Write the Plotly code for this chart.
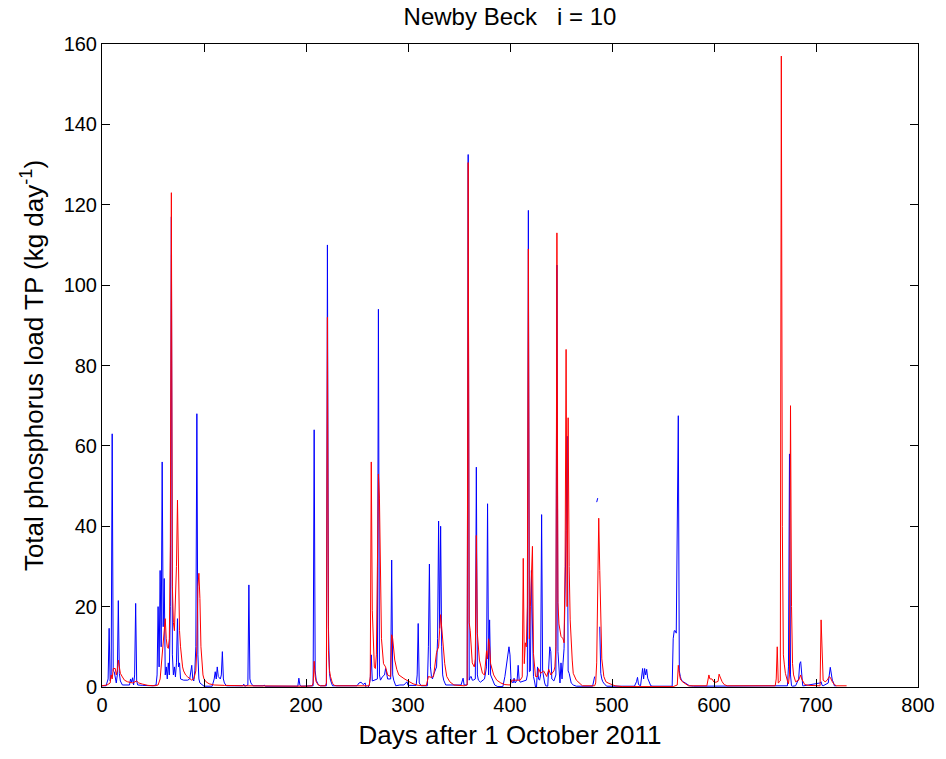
import plotly.graph_objects as go

# Observed / modelled TP load series (day after 1 Oct 2011, kg/day)
blue_days = [0,4,6,7,8,9,10,11,12,13,14,15,16,17,18,20,27,28,29,30,31,32,33,34,35,40,50,53,54,55,56,57,58,59,60,61,62,63,64,65,66,67,68,69,70,71,72,73,74,75,76,77,80,84,86,88,89,90,91,92,93,94,95,96,98,100,108,110,111,112,113,114,116,117,118,119,120,122,130,138,139,140,143,144,145,146,148,158,159,160,192,193,194,195,207,208,209,210,212,214,220,221,222,223,224,226,250,252,254,256,258,259,261,262,263,264,265,267,270,271,272,273,275,277,278,279,280,283,284,285,286,288,292,296,299,300,308,309,310,311,313,319,320,321,322,323,324,325,328,329,330,331,332,333,334,335,337,352,354,355,358,359,360,361,362,363,364,366,367,368,369,371,373,375,377,378,379,380,381,383,385,388,393,395,397,399,400,401,403,404,405,407,408,409,410,413,415,416,417,418,419,420,421,422,423,424,425,426,427,428,429,430,431,432,433,434,435,437,439,440,441,443,445,446,447,448,449,450,451,452,453,455,456,457,458,460,462,465,481,483,484,485,486,487,488,489,490,491,493,495,522,524,525,526,528,530,531,532,533,534,535,537,538,540,559,560,561,562,563,565,566,567,568,570,573,576,580,670,672,673,674,675,676,677,680,683,684,685,686,687,688,704,705,706,707,712,714,715,716,717,718,720,728]
blue_vals = [0.3,0.3,2,14.6,1.5,3,63,4,3.8,2,1,3,21.5,3.4,1.5,0.5,0.5,2,1.2,2.3,0.5,3,20.8,1.5,0.5,0.4,0.3,0.5,3,20,5,29,10,56,15,27,3,5,2,6,3,20,117,8,3,5,2.5,6,17,5,6,2,1.7,1.7,2,5.4,2,1.5,4,10,68,8,2,1,0.5,0.2,0.2,2,3.8,2,5,2.6,2,3,8.8,2,1,0.3,0.3,0.3,0.7,0.2,0.5,25.4,2,1,0.3,0.3,0.5,0.2,0.2,2.2,0.5,0.2,0.3,64,4,1.7,0.6,0.3,0.3,110,15,3.4,1.7,0.3,0.3,1,1.2,0.6,1,-0.3,0,0.5,2,8,1.5,1.7,2,94,3,1.7,2.6,3,4.6,3.5,2,2,31.6,3,1.7,0.3,0.5,0.5,1.3,0.4,0.4,3,15.8,1,0.3,0.3,10,30.6,5,2.6,2,3,5,12,41.3,14.6,40,10,3,1.7,0.5,0.5,2.2,0.5,0.5,132.5,1.7,2.5,2.6,1.7,1.7,2,54.7,3,1.7,1.2,1.7,2,5,45.6,3,16.7,3,1.7,0.5,0.1,0.1,2.6,6.7,10,8,1.7,1,2.2,1,1.7,5.4,1.7,1.2,1.5,1.7,1.7,3,118.6,3.8,4,29,10,2.6,1.5,0,0,5,2,1.7,3,42.9,4,1.7,1,0.3,0.2,10,8.8,2,1.5,3,105,8.8,5,1,6,2,6,9.5,39,62.4,4,3.4,1,0.5,0.2,0.2,2.6,None,46,47,None,15,3.4,2,1.3,0.6,0.2,0.2,1.3,2.4,0.6,0.3,4.6,2,4.6,3,4.4,2.2,1.2,0.3,0.2,0.2,12,14,14,13.4,67.5,4,2.6,1.7,1.3,0.9,0.3,0.2,0.2,0.3,5,58,3,0.3,0.2,0.3,2,5.8,6.3,2,0.3,0.3,1,1.3,0.4,0.3,1,4.9,2.6,1.7,1.2,0.3,0.3]

red_days = [0,5,8,9,10,11,13,14,15,16,17,18,20,22,25,28,30,34,36,40,45,52,55,57,58,59,60,61,62,63,64,65,66,67,68,69,70,71,72,73,74,75,76,77,78,79,80,82,84,86,88,90,92,93,94,95,96,97,98,99,100,102,105,110,120,140,200,206,207,208,209,210,212,214,219,220,221,222,223,224,226,228,230,262,263,264,265,266,267,268,269,270,271,272,273,274,276,278,280,283,284,285,287,289,291,293,296,300,305,310,318,319,320,323,325,328,330,332,334,336,338,341,345,355,358,359,360,361,363,365,366,367,368,370,373,375,377,378,379,380,381,384,387,391,395,400,402,406,410,412,413,414,415,416,417,418,419,420,421,422,423,425,427,428,430,433,436,438,440,441,443,444,445,446,447,448,450,452,453,454,455,456,457,458,459,461,462,465,468,471,483,484,485,486,487,488,489,490,492,494,497,503,510,560,564,565,566,567,569,572,575,593,594,595,596,598,600,602,604,605,606,608,610,613,660,661,662,663,665,666,667,668,669,670,672,673,674,675,676,677,678,680,683,685,686,687,689,693,704,705,706,707,709,711,713,714,716,718,720,730]
red_vals = [0.3,0.5,1,3,2,4.6,4.6,3,4,6.7,5,3.4,2.5,1.7,1.3,1.2,1,1.5,1,0.7,0.4,0.3,0.5,2,5,8,12,14,17,12,10,9.6,12,35,123,25,16,14,20,30,46.5,25,14,10,7,5,4,3,2.5,2,1.7,2,4,10,25,28.3,22,10,5,3,2,1.3,0.8,0.5,0.4,0.3,0.2,0.3,1,6.4,2.6,1.3,0.5,0.3,0.3,1,92,9,4.2,2.6,0.9,0.4,0.3,0.3,2.6,56,19,10,5,4.6,8,30,53,47,30,12,5.8,5,3,2.6,13,12,6.7,4.4,3,2.6,2.1,1.5,0.8,0.4,0.4,1.5,2.6,2.4,2.6,8.6,10,18,12,5.8,2.6,1.3,0.5,0.3,0.5,130.5,16,14,6,5,7,37.7,13.3,6.7,3.4,3,9,7,12,10,5.8,3,1.7,1,0.6,0.5,1.7,1.7,1.7,2.5,32,5.8,11,10,20,109,12,20,30,35,8.3,2.6,2.6,4.6,3.4,4,2.6,4.4,3,3.4,4,5,10,113,21,15.7,12.6,12,11,30,84,20,67,30,16.7,6.7,3.4,1.7,1,0.3,0.3,1,6,30,42,29,14,7,2.6,1.3,0.9,0.3,0.1,0.1,0.5,5.4,3.4,2,1.3,0.9,0.3,0.3,2,3,2,2,1.2,1.2,1.4,3.2,2.5,1.3,0.6,0.3,0.3,2,10,1,1.5,157,40,8,5.5,3.4,1.5,0.8,3,70,20,5.8,3,1.3,1.7,3,2,1.4,0.6,0.4,0.3,16.7,5,1.7,1.3,1.7,2.6,2.4,1.3,0.6,0.3,0.3]

x_ticks = [0, 100, 200, 300, 400, 500, 600, 700, 800]
y_ticks = [0, 20, 40, 60, 80, 100, 120, 140, 160]

FONT = "Liberation Sans, Arial, sans-serif"

fig = go.Figure()
fig.add_trace(go.Scatter(x=blue_days, y=blue_vals, mode="lines",
                         line=dict(color="rgb(0,0,255)", width=1),
                         connectgaps=False, showlegend=False))
fig.add_trace(go.Scatter(x=red_days, y=red_vals, mode="lines",
                         line=dict(color="rgb(255,0,0)", width=1),
                         showlegend=False))

axis_common = dict(showgrid=False, zeroline=False, showline=True, linecolor="black",
                   linewidth=1, mirror="ticks", ticks="inside", ticklen=8,
                   tickcolor="black", tickfont=dict(family=FONT, size=20, color="black"))

fig.update_layout(
    width=946, height=759,
    margin=dict(l=102, r=28, t=44, b=72),
    paper_bgcolor="white", plot_bgcolor="white",
    font=dict(family=FONT, size=20, color="black"),
    title=dict(text="Newby Beck\u00a0\u00a0\u00a0i = 10", x=0.5, xref="paper",
               y=1 - 17 / 759, yref="container", yanchor="middle",
               font=dict(family=FONT, size=24, color="black")),
    xaxis=dict(range=[0, 800], tickvals=x_ticks, ticktext=[str(v) for v in x_ticks],
               title=dict(text="Days after 1 October 2011", standoff=10,
                          font=dict(family=FONT, size=26)), **axis_common),
    yaxis=dict(range=[0, 160], tickvals=y_ticks, ticktext=[str(v) for v in y_ticks],
               title=dict(text="Total phosphorus load TP (kg day<sup>-1</sup>)", standoff=12,
                          font=dict(family=FONT, size=26)), **axis_common),
)

fig.write_html("out.html")
